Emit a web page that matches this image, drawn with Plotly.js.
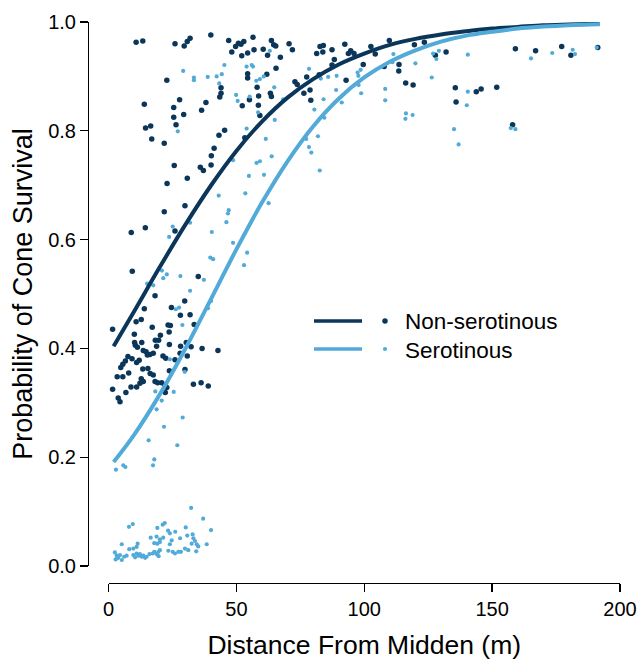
<!DOCTYPE html>
<html>
<head>
<meta charset="utf-8">
<script src="https://cdn.plot.ly/plotly-3.0.1.min.js"></script>
<style>html,body{margin:0;padding:0;background:#fff;}#chart{width:639px;height:660px;}</style>
</head>
<body>
<div id="chart"></div>
<script>
// Non-serotinous cones: observed points
const nonSerX = [10.8,13.4,26.0,29.6,30.8,31.9,40.0,47.0,48.2,49.7,50.8,51.8,52.9,56.5,54.4,52.1,56.9,60.5,63.7,64.6,65.4,62.2,65.5,54.4,54.4,61.9,58.1,58.7,55.1,52.3,58.6,59.2,63.3,63.7,44.0,44.0,43.5,22.8,14.0,27.8,25.5,25.5,29.4,26.4,36.4,38.1,14.5,16.5,16.9,21.8,45.4,43.2,53.3,41.3,40.2,40.1,35.9,37.1,25.7,30.8,22.9,
29.9,21.8,8.9,14.4,26.0,9.3,35.1,18.2,29.8,14.0,24.6,28.1,31.9,1.6,10.8,12.8,17.1,23.3,24.2,23.7,33.5,10.1,20.3,18.3,19.6,10.2,10.5,11.3,13.0,18.8,23.8,28.2,30.4,32.3,36.6,42.8,13.6,14.7,16.2,17.5,15.2,7.6,9.2,6.6,5.6,4.8,12.0,11.0,21.3,22.4,28.0,30.8,26.0,13.4,15.4,16.3,17.5,3.4,5.6,7.9,23.8,29.9,12.8,13.6,12.3,11.0,18.2,19.2,20.8,22.1,22.8,8.8,1.6,6.8,33.2,36.2,39.0,22.2,3.8,4.5,
70.6,71.9,67.2,81.4,82.7,84.0,83.8,87.4,88.3,87.4,92.4,93.8,94.7,96.0,99.6,102.6,104.3,109.8,119.6,123.5,127.8,132.0,107.8,113.6,113.5,116.2,119.1,92.9,82.4,77.5,72.9,73.8,76.4,78.8,79.1,
159.1,167.0,177.2,180.8,191.3,135.6,135.9,143.8,145.7,151.8,158.0];
const nonSerY = [0.963,0.965,0.960,0.956,0.964,0.970,0.976,0.966,0.945,0.955,0.961,0.959,0.964,0.972,0.943,0.938,0.949,0.950,0.966,0.958,0.956,0.939,0.915,0.905,0.897,0.904,0.880,0.864,0.857,0.846,0.847,0.828,0.869,0.863,0.879,0.869,0.862,0.893,0.849,0.857,0.843,0.825,0.830,0.811,0.838,0.852,0.805,0.809,0.785,0.777,0.801,0.792,0.787,0.768,0.754,0.737,0.733,0.727,0.736,0.713,0.703,
0.662,0.651,0.613,0.622,0.616,0.542,0.532,0.497,0.487,0.473,0.475,0.461,0.462,0.435,0.449,0.453,0.439,0.443,0.442,0.430,0.444,0.426,0.424,0.415,0.415,0.411,0.406,0.402,0.411,0.404,0.407,0.404,0.411,0.403,0.400,0.396,0.396,0.394,0.389,0.391,0.388,0.385,0.381,0.377,0.371,0.365,0.378,0.374,0.386,0.382,0.391,0.386,0.379,0.362,0.363,0.354,0.351,0.348,0.348,0.355,0.359,0.361,0.344,0.339,0.336,0.329,0.339,0.337,0.337,0.332,0.328,0.329,0.325,0.319,0.334,0.337,0.331,0.319,0.309,0.302,
0.960,0.949,0.935,0.942,0.955,0.957,0.945,0.949,0.931,0.921,0.959,0.942,0.947,0.942,0.922,0.955,0.941,0.966,0.958,0.963,0.939,0.945,0.918,0.922,0.910,0.888,0.884,0.893,0.903,0.899,0.890,0.885,0.869,0.875,0.856,
0.951,0.947,0.955,0.939,0.953,0.879,0.853,0.872,0.877,0.880,0.811];

// Serotinous cones: observed points
const serX = [29.2,33.4,33.4,38.8,42.3,44.3,45.3,43.3,54.0,56.0,56.5,57.8,59.2,60.7,64.8,49.9,50.5,55.2,58.5,27.1,54.0,61.5,63.8,57.9,59.2,48.7,54.9,60.8,43.1,53.5,62.6,47.0,46.7,46.1,31.9,25.1,23.7,40.4,48.7,54.2,39.8,40.9,53.0,20.9,21.4,22.8,28.1,15.1,17.5,37.3,31.9,40.1,27.6,26.3,38.9,28.9,24.0,29.8,18.3,25.5,20.8,18.8,29.0,21.7,15.7,26.9,17.9,17.4,2.9,5.8,6.6,
32.3,37.0,40.1,8.0,9.5,19.1,21.2,22.0,30.2,26.1,23.3,24.0,5.2,16.5,18.8,20.1,21.4,17.9,19.1,20.1,24.7,24.0,30.8,32.9,33.2,33.8,35.1,34.5,32.5,38.4,28.0,9.7,11.0,11.4,8.1,2.5,3.2,2.8,3.8,4.5,5.2,6.1,7.1,9.7,10.4,11.0,11.7,12.3,13.0,13.6,14.3,14.9,16.0,17.3,17.9,18.8,19.5,20.1,19.6,23.4,25.1,26.0,27.3,28.3,29.9,31.2,34.3,
63.1,78.4,85.9,89.2,83.0,97.4,98.6,97.7,97.8,98.8,89.0,91.2,84.1,80.5,84.4,68.3,65.0,77.3,81.9,78.4,79.3,82.6,111.4,111.0,120.0,108.2,108.2,126.4,126.9,128.2,129.2,116.3,116.1,118.9,135.1,136.9,140.5,140.5,140.1,165.2,173.5,181.5,182.4,190.9,157.3,159.1];
const serY = [0.910,0.898,0.893,0.899,0.900,0.904,0.921,0.887,0.918,0.921,0.918,0.892,0.895,0.900,0.880,0.866,0.855,0.863,0.834,0.799,0.804,0.785,0.753,0.741,0.744,0.746,0.717,0.719,0.681,0.685,0.667,0.654,0.648,0.632,0.631,0.624,0.605,0.614,0.594,0.576,0.567,0.564,0.553,0.543,0.529,0.536,0.533,0.519,0.516,0.526,0.506,0.487,0.475,0.472,0.474,0.443,0.380,0.357,0.321,0.320,0.304,0.288,0.273,0.256,0.231,0.222,0.196,0.185,0.177,0.185,0.182,
0.107,0.087,0.066,0.072,0.077,0.070,0.076,0.079,0.071,0.063,0.065,0.060,0.040,0.052,0.054,0.049,0.052,0.042,0.041,0.044,0.047,0.040,0.056,0.058,0.051,0.046,0.036,0.040,0.041,0.040,0.051,0.032,0.035,0.041,0.031,0.025,0.019,0.012,0.015,0.020,0.011,0.017,0.019,0.020,0.016,0.023,0.019,0.022,0.017,0.019,0.015,0.017,0.022,0.023,0.026,0.022,0.026,0.029,0.018,0.028,0.026,0.023,0.026,0.026,0.032,0.029,0.027,
0.947,0.914,0.899,0.901,0.896,0.907,0.912,0.901,0.884,0.869,0.875,0.852,0.858,0.839,0.824,0.858,0.820,0.785,0.790,0.770,0.760,0.727,0.941,0.926,0.924,0.877,0.856,0.898,0.942,0.932,0.947,0.832,0.822,0.829,0.803,0.775,0.940,0.872,0.847,0.933,0.943,0.949,0.941,0.953,0.805,0.803];

// Fitted curves
const curveX = [2,10,20,30,40,50,60,70,80,90,100,110,120,130,140,150,160,170,180,192];
const nonSerFit = [0.404,0.468,0.549,0.627,0.699,0.763,0.817,0.861,0.895,0.922,0.942,0.958,0.969,0.977,0.983,0.988,0.991,0.994,0.9955,0.997];
const serFit = [0.191,0.241,0.315,0.399,0.490,0.582,0.668,0.744,0.808,0.859,0.898,0.927,0.948,0.964,0.975,0.982,0.988,0.9915,0.994,0.996];

const xTicks = [0,50,100,150,200];
const yTicks = [0,0.2,0.4,0.6,0.8,1.0];
const yTickText = ['0.0','0.2','0.4','0.6','0.8','1.0'];
const seriesNames = ['Non-serotinous','Serotinous'];

const DARK = '#0b3659';
const LIGHT = '#52aad8';
const W = 639, H = 660;
const M = {l:88, r:19, t:22, b:77};
const PW = W - M.l - M.r, PH = H - M.t - M.b;
const px2x = p => (p - M.l) / PW;
const py2y = p => (H - M.b - p) / PH;
const FONT = 'Liberation Sans, Arial, Helvetica, sans-serif';

const traces = [
  {x: nonSerX, y: nonSerY, type:'scatter', mode:'markers', marker:{color:DARK, size:5.5}, cliponaxis:false, showlegend:false, hoverinfo:'skip'},
  {x: serX, y: serY, type:'scatter', mode:'markers', marker:{color:LIGHT, size:4.2}, cliponaxis:false, showlegend:false, hoverinfo:'skip'},
  {x: curveX, y: nonSerFit, type:'scatter', mode:'lines', line:{color:DARK, width:4, shape:'spline'}, showlegend:false, hoverinfo:'skip'},
  {x: curveX, y: serFit, type:'scatter', mode:'lines', line:{color:LIGHT, width:4, shape:'spline'}, showlegend:false, hoverinfo:'skip'}
];

// legend (custom, R-style)
const legRows = [{py:321, c:DARK, s:5.5}, {py:349, c:LIGHT, s:4.2}];
const shapes = [];
const annotations = [];
legRows.forEach((r, i) => {
  shapes.push({type:'line', xref:'paper', yref:'paper', x0:px2x(314), x1:px2x(362), y0:py2y(r.py), y1:py2y(r.py), line:{color:r.c, width:3.5}});
  shapes.push({type:'circle', xref:'paper', yref:'paper', x0:px2x(385 - r.s/2), x1:px2x(385 + r.s/2), y0:py2y(r.py + r.s/2), y1:py2y(r.py - r.s/2), fillcolor:r.c, line:{width:0}});
  annotations.push({xref:'paper', yref:'paper', x:px2x(403), y:py2y(r.py + 1), xanchor:'left', yanchor:'middle', text:seriesNames[i], showarrow:false, font:{family:FONT, size:22.5, color:'#000'}});
});

const layout = {
  width: W, height: H,
  margin: M,
  paper_bgcolor:'#fff', plot_bgcolor:'#fff',
  showlegend:false,
  font:{family:FONT, color:'#000'},
  xaxis:{
    domain:[px2x(108.5), 1], range:[0,200], anchor:'free', position:0,
    showline:true, linecolor:'#000', linewidth:1.3, mirror:false,
    ticks:'outside', ticklen:8, tickwidth:1.3, tickcolor:'#000',
    tickvals:xTicks, showgrid:false, zeroline:false,
    tickfont:{family:FONT, size:20, color:'#000'},
    title:{text:'Distance From Midden (m)', font:{family:FONT, size:26.5, color:'#000'}, standoff:16},
    automargin:false
  },
  yaxis:{
    domain:[1 - (566 - M.t)/PH, 1], range:[0,1], anchor:'free', position:0,
    showline:true, linecolor:'#000', linewidth:1.3,
    ticks:'outside', ticklen:8, tickwidth:1.3, tickcolor:'#000',
    tickvals:yTicks, ticktext:yTickText, showgrid:false, zeroline:false,
    tickfont:{family:FONT, size:20, color:'#000'},
    title:{text:'Probability of Cone Survival', font:{family:FONT, size:27, color:'#000'}, standoff:6},
    automargin:false
  },
  shapes: shapes,
  annotations: annotations
};

Plotly.newPlot('chart', traces, layout, {staticPlot:true, displayModeBar:false});
</script>
</body>
</html>
